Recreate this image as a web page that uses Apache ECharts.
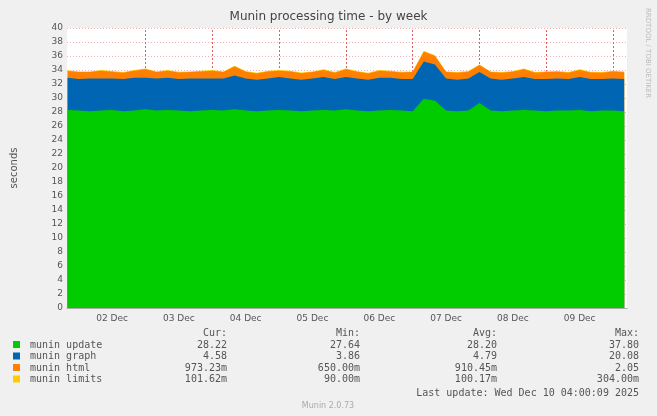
<!DOCTYPE html>
<html><head><meta charset="utf-8">
<script src="https://cdn.jsdelivr.net/npm/echarts@6/dist/echarts.min.js"></script>
<style>body{margin:0;background:#f0f0f0}#c{width:657px;height:416px}</style>
</head><body><div id="c"></div>
<script>
// hours since 01 Dec 00:00
const hours = [20,24,28,32,36,40,44,48,52,56,60,64,68,72,76,80,84,88,92,96,100,104,108,112,116,120,124,128,132,136,140,144,148,152,156,160,164,168,172,176,180,184,188,192,196,200,204,208,212,216,220];
const munUpdate = [28.3,28.2,28.1,28.2,28.3,28.1,28.2,28.4,28.2,28.3,28.2,28.1,28.2,28.3,28.2,28.4,28.2,28.1,28.2,28.3,28.2,28.1,28.2,28.3,28.2,28.4,28.2,28.1,28.2,28.3,28.2,28.1,29.9,29.6,28.2,28.1,28.2,29.3,28.2,28.1,28.2,28.3,28.2,28.1,28.2,28.2,28.3,28.1,28.2,28.2,28.1];
const munGraph = [4.6,4.5,4.7,4.6,4.5,4.6,4.7,4.5,4.6,4.6,4.5,4.7,4.6,4.5,4.6,4.8,4.6,4.5,4.6,4.7,4.6,4.5,4.6,4.7,4.5,4.6,4.6,4.5,4.7,4.6,4.5,4.6,5.3,5.2,4.6,4.5,4.6,4.4,4.6,4.5,4.6,4.7,4.5,4.6,4.6,4.5,4.7,4.6,4.5,4.6,4.6];
const munHtml = [0.95,1.0,0.9,1.1,0.95,0.9,1.0,1.2,0.9,1.0,0.95,0.9,1.0,1.1,0.9,1.3,0.95,0.9,1.0,0.9,1.0,0.95,0.9,1.0,0.9,1.1,0.95,0.9,1.0,0.9,0.95,1.0,1.4,1.2,0.9,1.0,0.95,1.0,0.9,1.0,0.95,1.1,0.9,1.0,0.95,0.9,1.0,0.95,0.9,1.0,0.97];
const munLimits = [0.10,0.10,0.10,0.11,0.10,0.10,0.10,0.12,0.10,0.10,0.10,0.10,0.10,0.11,0.10,0.10,0.10,0.10,0.10,0.10,0.10,0.10,0.10,0.10,0.10,0.10,0.10,0.10,0.10,0.10,0.10,0.10,0.15,0.12,0.10,0.10,0.10,0.10,0.10,0.10,0.10,0.10,0.10,0.10,0.10,0.10,0.10,0.10,0.10,0.10,0.10];
const dayTicks = [36,60,84,108,132,156,180,204];
const dayLabels = ['02 Dec','03 Dec','04 Dec','05 Dec','06 Dec','07 Dec','08 Dec','09 Dec'];
const midnights = [48,72,96,120,144,168,192,216];
const legendRows = [
  ['munin update','#00cc00','28.22','27.64','28.20','37.80'],
  ['munin graph','#0066b3','4.58','3.86','4.79','20.08'],
  ['munin html','#ff8000','973.23m','650.00m','910.45m','2.05'],
  ['munin limits','#ffcc00','101.62m','90.00m','100.17m','304.00m']
];

const chart = echarts.init(document.getElementById('c'));
const mono = 'DejaVu Sans Mono';
const txt = (x, y, t, align) => ({type:'text', x:x, y:y,
  style:{text:t, fill:'#555', font:'10px ' + mono, textAlign:align || 'left', textVerticalAlign:'middle'}});
const graphics = [
  txt(227,333,'Cur:','right'), txt(360,333,'Min:','right'), txt(497,333,'Avg:','right'), txt(639,333,'Max:','right'),
  txt(639,393,'Last update: Wed Dec 10 04:00:09 2025','right'),
  {type:'text', x:328, y:406, style:{text:'Munin 2.0.73', fill:'#aaa', font:'8px DejaVu Sans', textAlign:'center', textVerticalAlign:'middle'}},
  {type:'text', x:648, y:8, rotation:-Math.PI/2, style:{text:'RRDTOOL / TOBI OETIKER', fill:'#bbb', font:'7px DejaVu Sans', textAlign:'left', textVerticalAlign:'middle'}}
];
legendRows.forEach((r, i) => {
  const y = 345 + i * 11.5;
  graphics.push({type:'rect', shape:{x:13, y:y-4, width:7, height:7}, style:{fill:r[1]}});
  graphics.push(txt(30, y, r[0]));
  graphics.push(txt(227, y, r[2], 'right'), txt(360, y, r[3], 'right'), txt(497, y, r[4], 'right'), txt(639, y, r[5], 'right'));
});

// stack by hand: each layer drawn as area from zero to its cumulative top, lower layers on top
const layers = [[munUpdate,'#00cc00'],[munGraph,'#0066b3'],[munHtml,'#ff8000'],[munLimits,'#ffcc00']];
const cum = hours.map(() => 0);
const series = layers.map(([vals, color], k) => {
  const pts = hours.map((h, i) => { cum[i] += vals[i]; return [h, +cum[i].toFixed(3)]; });
  return {name: legendRows[k][0], type:'line', data:pts, symbol:'none', z: 10 - k,
    lineStyle:{width:0}, areaStyle:{color, opacity:1}, itemStyle:{color}};
});
series.push({type:'line', data:[], z:20, markLine:{silent:true, symbol:'none', label:{show:false},
  lineStyle:{color:'#e06060', type:[2,2], width:1}, data: midnights.map(m => ({xAxis:m}))}});

chart.setOption({
  backgroundColor:'#f0f0f0',
  animation:false,
  title:{text:'Munin processing time - by week', left:'center', top:6,
    textStyle:{fontFamily:'DejaVu Sans', fontSize:12, fontWeight:'normal', color:'#444'}},
  grid:{left:67, right:30, top:28, bottom:108, backgroundColor:'#fff', show:true, borderWidth:0},
  xAxis:{type:'value', min:19.8, max:221,
    axisLine:{lineStyle:{color:'#aaa'}}, axisTick:{show:false}, splitLine:{show:false},
    axisLabel:{customValues:dayTicks, formatter:v => dayLabels[dayTicks.indexOf(v)] || '',
      fontFamily:'DejaVu Sans', fontSize:9, color:'#555', margin:6}},
  yAxis:{type:'value', min:0, max:40, interval:2, name:'seconds', nameLocation:'middle', nameGap:48,
    nameTextStyle:{fontFamily:'DejaVu Sans', fontSize:10, color:'#555'},
    axisLine:{show:false}, axisTick:{show:false},
    axisLabel:{fontFamily:'DejaVu Sans', fontSize:9, color:'#555', margin:4},
    splitLine:{lineStyle:{color:'#f0b0b0', type:[1,2]}}},
  series,
  graphic: graphics
});
</script></body></html>
